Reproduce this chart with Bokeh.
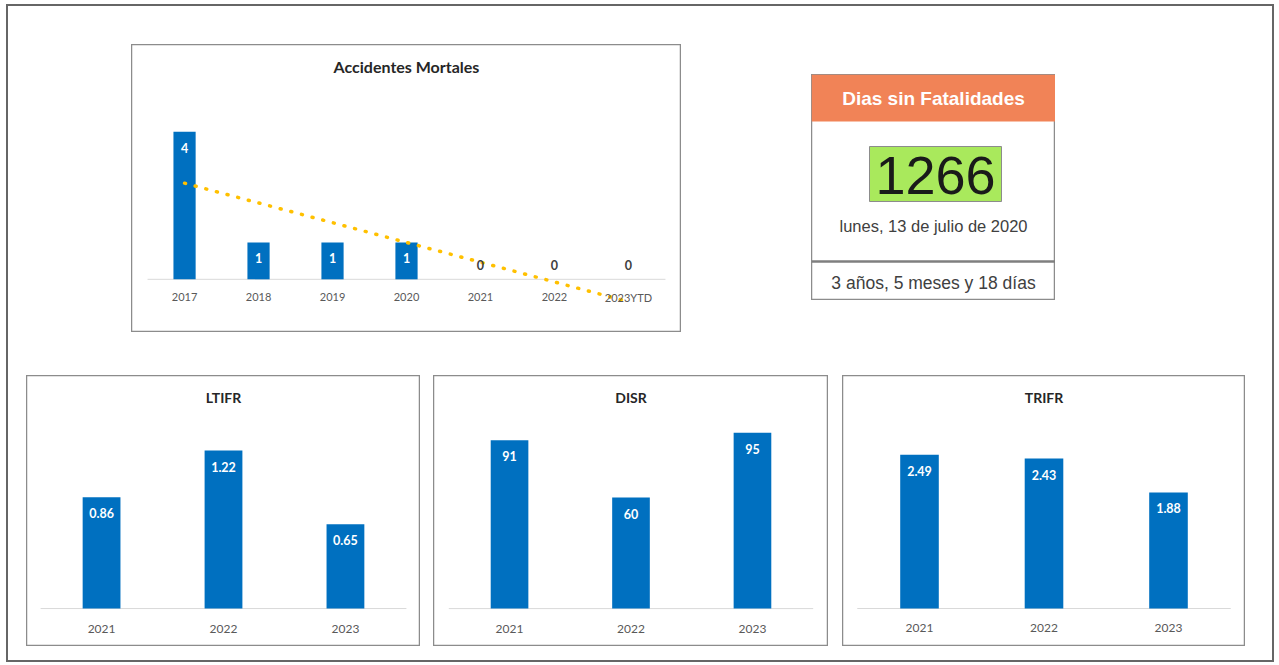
import numpy as np
from bokeh.plotting import figure
from bokeh.models import FactorRange, Range1d, Label, ColumnDataSource, Spacer
from bokeh.layouts import row, column
from bokeh.core.properties import value
from bokeh.embed import file_html
from bokeh.resources import INLINE

# ---------------- data ----------------
mort_years = ["2017", "2018", "2019", "2020", "2021", "2022", "2023YTD"]
mort_values = [4, 1, 1, 1, 0, 0, 0]

kpi_years = ["2021", "2022", "2023"]
ltifr_values = [0.86, 1.22, 0.65]
disr_values = [91, 60, 95]
trifr_values = [2.49, 2.43, 1.88]

dias_title = "Dias sin Fatalidades"
dias_count = 1266
dias_fecha = "lunes, 13 de julio de 2020"
dias_duracion = "3 años, 5 meses y 18 días"

# ---------------- styles ----------------
BLUE = "#0070C0"
TREND = "#FFC000"
CHART_FONT = "Lato"
CARD_FONT = "Liberation Sans"
BOX_LINE = "#8c8c8c"


def bar_panel(title, cats, vals, fmt, w, h, y0, y1, pad, bar_w,
              trend=False, lab_off=19, title_size="14px", cat_size="12px"):
    labels = [fmt.format(v) for v in vals]
    inside = [v > 0 for v in vals]
    src = ColumnDataSource(dict(
        cat=cats, val=vals, lab=labels,
        lcolor=["#ffffff" if i else "#404040" for i in inside],
        loff=[16 if i else -14 for i in inside],
    ))
    p = figure(width=w, height=h, title=None,
               x_range=FactorRange(factors=cats, range_padding=pad),
               y_range=Range1d(y0, y1),
               output_backend="svg", toolbar_location=None,
               x_axis_location=None, y_axis_location=None,
               min_border=0, background_fill_color="white",
               border_fill_color="white")
    p.grid.visible = False
    p.outline_line_color = BOX_LINE
    p.outline_line_width = 1.5

    base = ColumnDataSource(dict(x0=[0], x1=[len(cats)], y=[0]))
    p.segment(x0="x0", x1="x1", y0="y", y1="y", source=base,
              line_color="#d9d9d9", line_width=1)
    p.vbar(x="cat", top="val", width=bar_w, source=src,
           fill_color=BLUE, line_color=None)

    if trend:
        idx = np.arange(len(vals))
        k, b = np.polyfit(idx, np.array(vals, dtype=float), 1)
        p.line(x=cats, y=list(k * idx + b), line_color=TREND, line_width=3.5,
               line_dash="1 10", line_cap="round")

    p.text(x="cat", y="val", text="lab", source=src, y_offset="loff",
           text_align="center", text_baseline="middle",
           text_font=value(CHART_FONT), text_font_style="bold",
           text_font_size="12.5px", text_color="lcolor")
    p.text(x="cat", y=0, text="cat", source=src, y_offset=lab_off,
           text_align="center", text_baseline="middle",
           text_font=value(CHART_FONT), text_font_size=cat_size,
           text_color="#595959")
    p.add_layout(Label(x=w / 2, y=h - 22, x_units="screen", y_units="screen",
                       text=title, text_align="center", text_baseline="middle",
                       text_font=CHART_FONT, text_font_style="bold",
                       text_font_size=title_size, text_color="#262626"))
    return p


mort = bar_panel("Accidentes Mortales", mort_years, mort_values, "{:.0f}",
                 550, 288, -1.442, 6.367, 0.062, 0.30, trend=True, lab_off=18,
                 title_size="16px", cat_size="11px")
ltifr = bar_panel("LTIFR", kpi_years, ltifr_values, "{:.2f}",
                  394, 271, -0.293, 1.799, 0.077, 0.31, lab_off=20)
disr = bar_panel("DISR", kpi_years, disr_values, "{:.0f}",
                 395, 271, -20.5, 126.0, 0.084, 0.31, lab_off=20)
trifr = bar_panel("TRIFR", kpi_years, trifr_values, "{:.2f}",
                  403, 271, -0.616, 3.776, 0.079, 0.31, lab_off=20)

# ---------------- "Dias sin Fatalidades" card ----------------
CW, CH = 244, 226
card = figure(width=CW, height=CH, title=None,
              x_range=Range1d(0, CW), y_range=Range1d(CH, 0),
              output_backend="svg", toolbar_location=None,
              x_axis_location=None, y_axis_location=None, min_border=0,
              background_fill_color="white", border_fill_color="white")
card.grid.visible = False
card.outline_line_color = BOX_LINE
card.outline_line_width = 1.5
card.quad(left=[0], right=[CW], top=[0], bottom=[47],
          fill_color="#F18357", line_color=None)
card.text(x=[CW / 2], y=[24], text=[dias_title], text_color="white",
          text_font=value(CARD_FONT), text_font_style="bold",
          text_font_size="19px", text_align="center", text_baseline="middle")
card.quad(left=[58], right=[190], top=[72], bottom=[127],
          fill_color="#A9E95C", line_color="#8c8c8c", line_width=1)
card.text(x=[124], y=[101], text=[str(dias_count)], text_color="#1a1a1a",
          text_font=value(CARD_FONT), text_font_size="54px",
          text_align="center", text_baseline="middle")
card.text(x=[CW / 2], y=[151], text=[dias_fecha], text_color="#404040",
          text_font=value(CARD_FONT), text_font_size="16.5px",
          text_align="center", text_baseline="middle")
card.segment(x0=[0], x1=[CW], y0=[187], y1=[187],
             line_color="#7f7f7f", line_width=2.5)
card.text(x=[CW / 2], y=[208], text=[dias_duracion], text_color="#404040",
          text_font=value(CARD_FONT), text_font_size="17.5px",
          text_align="center", text_baseline="middle")

# ---------------- layout ----------------
top_row = row(Spacer(width=123), mort, Spacer(width=130),
              column(Spacer(height=30), card), Spacer(width=217))
bottom_row = row(Spacer(width=18), ltifr, Spacer(width=13), disr,
                 Spacer(width=14), trifr, Spacer(width=27))
page = column(Spacer(height=38), top_row, Spacer(height=43), bottom_row,
              Spacer(height=14), margin=(4, 0, 0, 6),
              styles={"border": "2px solid #666666", "background": "white"})

open("out.html", "w").write(file_html(page, INLINE))
